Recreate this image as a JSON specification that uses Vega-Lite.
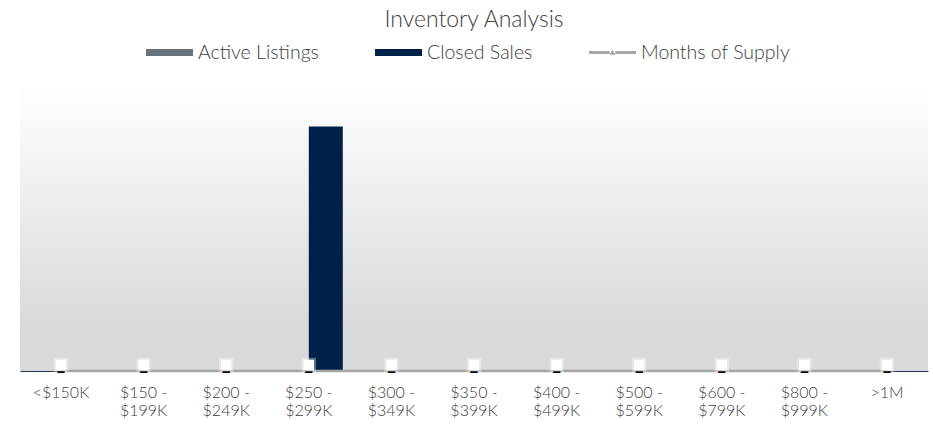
{
  "$schema": "https://vega.github.io/schema/vega-lite/v6.json",
  "width": 908,
  "height": 286,
  "autosize": {"type": "none"},
  "padding": {"left": 20, "top": 85, "right": 5, "bottom": 53},
  "background": "#ffffff",
  "config": {
    "font": "Lato",
    "view": {"stroke": null},
    "legend": {
      "orient": "none",
      "legendX": 126,
      "legendY": -56,
      "direction": "horizontal",
      "title": null,
      "labelFontSize": 19.5,
      "labelFontWeight": 300,
      "labelColor": "#404040",
      "labelFont": "Lato",
      "symbolSize": 2209,
      "symbolStrokeWidth": 0,
      "symbolOpacity": 1,
      "labelOffset": 5,
      "columnPadding": 56
    }
  },
  "title": {
    "text": "Inventory Analysis",
    "fontSize": 23,
    "fontWeight": 300,
    "color": "#404040",
    "anchor": "middle",
    "frame": "group",
    "offset": -3
  },
  "datasets": {
    "sales": [
      {"range": "<$150K", "series": "Active Listings", "value": 0},
      {"range": "<$150K", "series": "Closed Sales", "value": 0},
      {"range": "$150 - $199K", "series": "Active Listings", "value": 0},
      {"range": "$150 - $199K", "series": "Closed Sales", "value": 0},
      {"range": "$200 - $249K", "series": "Active Listings", "value": 0},
      {"range": "$200 - $249K", "series": "Closed Sales", "value": 0},
      {"range": "$250 - $299K", "series": "Active Listings", "value": 0},
      {"range": "$250 - $299K", "series": "Closed Sales", "value": 1},
      {"range": "$300 - $349K", "series": "Active Listings", "value": 0},
      {"range": "$300 - $349K", "series": "Closed Sales", "value": 0},
      {"range": "$350 - $399K", "series": "Active Listings", "value": 0},
      {"range": "$350 - $399K", "series": "Closed Sales", "value": 0},
      {"range": "$400 - $499K", "series": "Active Listings", "value": 0},
      {"range": "$400 - $499K", "series": "Closed Sales", "value": 0},
      {"range": "$500 - $599K", "series": "Active Listings", "value": 0},
      {"range": "$500 - $599K", "series": "Closed Sales", "value": 0},
      {"range": "$600 - $799K", "series": "Active Listings", "value": 0},
      {"range": "$600 - $799K", "series": "Closed Sales", "value": 0},
      {"range": "$800 - $999K", "series": "Active Listings", "value": 0},
      {"range": "$800 - $999K", "series": "Closed Sales", "value": 0},
      {"range": ">1M", "series": "Active Listings", "value": 0},
      {"range": ">1M", "series": "Closed Sales", "value": 0}
    ],
    "supply": [
      {"range": "<$150K", "months": 0, "label": "–"},
      {"range": "$150 - $199K", "months": 0, "label": "–"},
      {"range": "$200 - $249K", "months": 0, "label": "–"},
      {"range": "$250 - $299K", "months": 0, "label": "–"},
      {"range": "$300 - $349K", "months": 0, "label": "–"},
      {"range": "$350 - $399K", "months": 0, "label": "–"},
      {"range": "$400 - $499K", "months": 0, "label": "–"},
      {"range": "$500 - $599K", "months": 0, "label": "–"},
      {"range": "$600 - $799K", "months": 0, "label": "–"},
      {"range": "$800 - $999K", "months": 0, "label": "–"},
      {"range": ">1M", "months": 0, "label": "–"}
    ],
    "legend": [
      {"series": "Active Listings"},
      {"series": "Closed Sales"},
      {"series": "Months of Supply"}
    ]
  },
  "resolve": {"scale": {"y": "independent"}},
  "layer": [
    {
      "data": {"values": [{}]},
      "mark": {
        "type": "rect",
        "fill": {
          "gradient": "linear", "x1": 0, "y1": 0, "x2": 0, "y2": 1,
          "stops": [
            {"offset": 0, "color": "#ffffff"},
            {"offset": 0.85, "color": "#d9d9d9"},
            {"offset": 1, "color": "#d9d9d9"}
          ]
        }
      },
      "encoding": {}
    },
    {
      "data": {"name": "sales"},
      "mark": {"type": "bar"},
      "encoding": {
        "x": {
          "field": "range", "type": "nominal", "sort": null,
          "scale": {"paddingInner": 0.177, "paddingOuter": 0.085},
          "axis": {
            "title": null, "labelAngle": 0, "ticks": false,
            "domainColor": "#1f3a5f", "domainWidth": 1,
            "labelFontSize": 16, "labelFontWeight": 300, "labelColor": "#404040", "labelPadding": 13,
            "labelLineHeight": 18, "labelBaseline": "top",
            "labelExpr": "indexof(datum.label, ' - ') > 0 ? [slice(datum.label, 0, indexof(datum.label, ' - ') + 2), slice(datum.label, indexof(datum.label, ' - ') + 3)] : datum.label"
          }
        },
        "xOffset": {"field": "series", "type": "nominal", "sort": ["Active Listings", "Closed Sales"], "scale": {"paddingInner": 0, "paddingOuter": 0}},
        "y": {"field": "value", "type": "quantitative", "scale": {"domain": [0, 1.17]}, "axis": null},
        "color": {
          "field": "series", "type": "nominal",
          "scale": {"domain": ["Active Listings", "Closed Sales", "Months of Supply"], "range": ["#68737b", "#002147", "#a6a6a6"]}
        }
      }
    },
    {
      "data": {"name": "legend"},
      "mark": {"type": "point", "filled": true, "opacity": 0},
      "encoding": {
        "color": {"field": "series", "type": "nominal"},
        "shape": {
          "field": "series", "type": "nominal",
          "scale": {
            "domain": ["Active Listings", "Closed Sales", "Months of Supply"],
            "range": ["M-1,-0.15H1V0.15H-1Z", "M-1,-0.15H1V0.15H-1Z", "M-1,-0.06H-0.12V0.06H-1Z M0.12,-0.06H1V0.06H0.12Z M-0.13,0.1L0,-0.12L0.13,0.1Z M-0.08,0.06L0,-0.07L0.08,0.06Z"]
          }
        }
      }
    },
    {
      "data": {"name": "supply"},
      "layer": [
        {
          "mark": {"type": "line", "color": "#a6a6a6", "strokeWidth": 2.5},
          "encoding": {
            "x": {"field": "range", "type": "nominal", "sort": null},
            "y": {"field": "months", "type": "quantitative", "scale": {"domain": [0, 1]}, "axis": null}
          }
        },
        {
          "mark": {"type": "point", "shape": "square", "filled": true, "color": "#ffffff", "size": 110, "stroke": "#ffffff", "strokeWidth": 4, "strokeOpacity": 0.35, "opacity": 1, "yOffset": -6},
          "encoding": {
            "x": {"field": "range", "type": "nominal", "sort": null},
            "y": {"field": "months", "type": "quantitative", "scale": {"domain": [0, 1]}, "axis": null}
          }
        },
        {
          "mark": {"type": "text", "fontSize": 18, "fontWeight": "bold", "color": "#000000", "baseline": "alphabetic", "dy": 7},
          "encoding": {
            "x": {"field": "range", "type": "nominal", "sort": null},
            "y": {"field": "months", "type": "quantitative", "scale": {"domain": [0, 1]}, "axis": null},
            "text": {"field": "label"}
          }
        }
      ]
    }
  ]
}
